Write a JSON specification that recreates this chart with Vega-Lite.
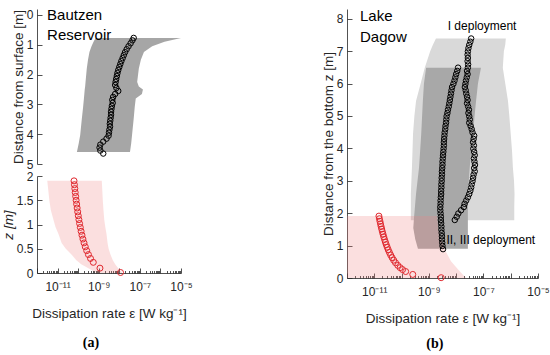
{
  "$schema": "https://vega.github.io/schema/vega-lite/v6.json",
  "padding": {"left": 1, "top": 7, "right": 3, "bottom": 5},
  "bounds": "flush",
  "spacing": 310,
  "config": {
    "view": {"stroke": null},
    "font": "Liberation Sans",
    "axis": {"grid": false, "domainColor": "#262626", "tickColor": "#262626", "labelColor": "#262626", "titleColor": "#262626", "labelFont": "Liberation Sans", "titleFont": "Liberation Sans", "labelFontSize": 12, "titleFontSize": 13.5, "titleFontWeight": "normal", "domainWidth": 0.8, "tickWidth": 0.8},
    "axisY": {"tickSize": -5, "labelPadding": 9, "titlePadding": 1, "labelOverlap": false, "labelBound": false}
  },
  "datasets": {
    "bautzenBand": [
      {"depth": 0.77, "lo": 7.08e-10, "hi": 1e-5},
      {"depth": 0.9, "lo": 5.62e-10, "hi": 1.58e-6},
      {"depth": 1.05, "lo": 4.47e-10, "hi": 3.98e-7},
      {"depth": 1.24, "lo": 3.55e-10, "hi": 1.58e-7},
      {"depth": 1.5, "lo": 3.02e-10, "hi": 1.12e-7},
      {"depth": 1.8, "lo": 2.63e-10, "hi": 8.91e-8},
      {"depth": 2.25, "lo": 2.29e-10, "hi": 7.41e-8},
      {"depth": 2.4, "lo": 2.19e-10, "hi": 8.91e-8},
      {"depth": 2.5, "lo": 2.09e-10, "hi": 1.41e-7},
      {"depth": 2.65, "lo": 2.0e-10, "hi": 1.26e-7},
      {"depth": 2.8, "lo": 1.91e-10, "hi": 6.31e-8},
      {"depth": 3.1, "lo": 1.74e-10, "hi": 5.62e-8},
      {"depth": 3.48, "lo": 1.51e-10, "hi": 5.01e-8},
      {"depth": 4.03, "lo": 1.26e-10, "hi": 4.17e-8},
      {"depth": 4.3, "lo": 1.07e-10, "hi": 3.8e-8},
      {"depth": 4.6, "lo": 8.71e-11, "hi": 3.31e-8}
    ],
    "bautzenEps": [
      {"depth": 0.77, "eps": 5.01e-8}, {"depth": 0.85, "eps": 4.37e-8}, {"depth": 0.95, "eps": 3.55e-8}, {"depth": 1.05, "eps": 2.82e-8},
      {"depth": 1.15, "eps": 2.29e-8}, {"depth": 1.25, "eps": 1.91e-8}, {"depth": 1.35, "eps": 1.66e-8}, {"depth": 1.45, "eps": 1.45e-8},
      {"depth": 1.55, "eps": 1.26e-8}, {"depth": 1.65, "eps": 1.12e-8}, {"depth": 1.75, "eps": 1.0e-8}, {"depth": 1.85, "eps": 8.91e-9},
      {"depth": 1.95, "eps": 8.13e-9}, {"depth": 2.05, "eps": 7.59e-9}, {"depth": 2.15, "eps": 7.08e-9}, {"depth": 2.25, "eps": 6.61e-9},
      {"depth": 2.35, "eps": 6.31e-9}, {"depth": 2.45, "eps": 7.24e-9}, {"depth": 2.55, "eps": 8.91e-9}, {"depth": 2.65, "eps": 6.31e-9},
      {"depth": 2.75, "eps": 5.01e-9}, {"depth": 2.85, "eps": 4.57e-9}, {"depth": 2.95, "eps": 4.79e-9}, {"depth": 3.05, "eps": 4.37e-9},
      {"depth": 3.15, "eps": 4.17e-9}, {"depth": 3.25, "eps": 3.98e-9}, {"depth": 3.35, "eps": 3.98e-9}, {"depth": 3.45, "eps": 3.8e-9},
      {"depth": 3.55, "eps": 3.63e-9}, {"depth": 3.65, "eps": 3.47e-9}, {"depth": 3.75, "eps": 3.55e-9}, {"depth": 3.85, "eps": 3.31e-9},
      {"depth": 3.95, "eps": 3.16e-9}, {"depth": 4.05, "eps": 3.02e-9}, {"depth": 4.15, "eps": 2.4e-9}, {"depth": 4.25, "eps": 1.66e-9},
      {"depth": 4.35, "eps": 1.2e-9}, {"depth": 4.45, "eps": 1.1e-9}, {"depth": 4.55, "eps": 1.2e-9}, {"depth": 4.65, "eps": 1.66e-9}
    ],
    "textA": [
      {"label": "Bautzen", "depth": 0, "eps": 3.1e-12},
      {"label": "Reservoir", "depth": 0.67, "eps": 3.1e-12}
    ],
    "bottomBand": [
      {"z": 1.9, "lo": 3.16e-12, "hi": 1.41e-9},
      {"z": 1.5, "lo": 3.98e-12, "hi": 1.58e-9},
      {"z": 1.3, "lo": 4.68e-12, "hi": 1.7e-9},
      {"z": 1.1, "lo": 6.31e-12, "hi": 1.86e-9},
      {"z": 0.95, "lo": 7.94e-12, "hi": 2.09e-9},
      {"z": 0.8, "lo": 1.12e-11, "hi": 2.4e-9},
      {"z": 0.62, "lo": 1.58e-11, "hi": 2.69e-9},
      {"z": 0.5, "lo": 2.51e-11, "hi": 3.02e-9},
      {"z": 0.37, "lo": 5.01e-11, "hi": 3.8e-9},
      {"z": 0.27, "lo": 7.94e-11, "hi": 4.79e-9},
      {"z": 0.18, "lo": 1.41e-10, "hi": 6.31e-9},
      {"z": 0.1, "lo": 3.16e-10, "hi": 8.91e-9},
      {"z": 0.05, "lo": 5.01e-10, "hi": 1.12e-8},
      {"z": 0, "lo": 7.94e-10, "hi": 1.41e-8}
    ],
    "bottomEps": [
      {"z": 1.9, "eps": 6.31e-11}, {"z": 1.82, "eps": 6.59e-11}, {"z": 1.74, "eps": 6.89e-11}, {"z": 1.66, "eps": 7.22e-11},
      {"z": 1.58, "eps": 7.59e-11}, {"z": 1.5, "eps": 7.99e-11}, {"z": 1.42, "eps": 8.44e-11}, {"z": 1.34, "eps": 8.95e-11},
      {"z": 1.26, "eps": 9.52e-11}, {"z": 1.18, "eps": 1.016e-10}, {"z": 1.1, "eps": 1.09e-10}, {"z": 1.02, "eps": 1.175e-10},
      {"z": 0.94, "eps": 1.276e-10}, {"z": 0.86, "eps": 1.394e-10}, {"z": 0.78, "eps": 1.537e-10}, {"z": 0.7, "eps": 1.713e-10},
      {"z": 0.62, "eps": 1.934e-10}, {"z": 0.54, "eps": 2.22e-10}, {"z": 0.46, "eps": 2.61e-10}, {"z": 0.38, "eps": 3.16e-10},
      {"z": 0.3, "eps": 4.0e-10}, {"z": 0.22, "eps": 5.45e-10}, {"z": 0.1, "eps": 1.15e-9}, {"z": 0.01, "eps": 1.15e-8}
    ],
    "captionA": [{"label": "(a)", "z": -1.44, "eps": 4.2e-10}],
    "dagowLight": [
      {"z": 7.39, "lo": 1.82e-9, "hi": 6.61e-7},
      {"z": 7.2, "lo": 1.41e-9, "hi": 6.31e-7},
      {"z": 7.0, "lo": 1.12e-9, "hi": 5.62e-7},
      {"z": 6.49, "lo": 7.08e-10, "hi": 5.13e-7},
      {"z": 6.0, "lo": 5.01e-10, "hi": 6.31e-7},
      {"z": 5.46, "lo": 3.39e-10, "hi": 7.94e-7},
      {"z": 5.0, "lo": 2.95e-10, "hi": 8.91e-7},
      {"z": 4.44, "lo": 2.63e-10, "hi": 1.0e-6},
      {"z": 3.9, "lo": 2.51e-10, "hi": 1.12e-6},
      {"z": 3.41, "lo": 2.4e-10, "hi": 1.2e-6},
      {"z": 3.0, "lo": 2.29e-10, "hi": 1.32e-6},
      {"z": 2.6, "lo": 2.19e-10, "hi": 1.38e-6},
      {"z": 2.2, "lo": 2.19e-10, "hi": 1.35e-6},
      {"z": 1.78, "lo": 2.19e-10, "hi": 1.35e-6}
    ],
    "dagowDark": [
      {"z": 6.49, "lo": 7.94e-10, "hi": 8.13e-8},
      {"z": 6.0, "lo": 6.61e-10, "hi": 6.31e-8},
      {"z": 5.46, "lo": 6.03e-10, "hi": 5.37e-8},
      {"z": 4.95, "lo": 5.62e-10, "hi": 4.68e-8},
      {"z": 4.44, "lo": 5.25e-10, "hi": 4.17e-8},
      {"z": 3.92, "lo": 4.79e-10, "hi": 3.55e-8},
      {"z": 3.41, "lo": 4.37e-10, "hi": 3.16e-8},
      {"z": 2.6, "lo": 3.39e-10, "hi": 2.69e-8},
      {"z": 1.8, "lo": 2.82e-10, "hi": 2.69e-8},
      {"z": 1.54, "lo": 2.69e-10, "hi": 2.69e-8},
      {"z": 1.2, "lo": 3.16e-10, "hi": 2.69e-8},
      {"z": 0.9, "lo": 3.98e-10, "hi": 2.69e-8}
    ],
    "dagowPink": [
      {"z": 1.91, "lo": 1e-12, "hi": 2.0e-9},
      {"z": 1.5, "lo": 1e-12, "hi": 2.24e-9},
      {"z": 1.2, "lo": 1e-12, "hi": 2.82e-9},
      {"z": 0.85, "lo": 1e-12, "hi": 3.98e-9},
      {"z": 0.52, "lo": 1e-12, "hi": 6.46e-9},
      {"z": 0.21, "lo": 1e-12, "hi": 1.35e-8},
      {"z": 0, "lo": 1e-12, "hi": 2.29e-8}
    ],
    "dagowI": [
      {"z": 7.39, "eps": 3.55e-8}, {"z": 7.29, "eps": 3.31e-8}, {"z": 7.19, "eps": 3.02e-8}, {"z": 7.09, "eps": 2.82e-8},
      {"z": 6.99, "eps": 2.69e-8}, {"z": 6.89, "eps": 2.63e-8}, {"z": 6.79, "eps": 2.69e-8}, {"z": 6.69, "eps": 2.63e-8},
      {"z": 6.59, "eps": 2.75e-8}, {"z": 6.49, "eps": 2.69e-8}, {"z": 6.39, "eps": 2.51e-8}, {"z": 6.29, "eps": 2.63e-8},
      {"z": 6.19, "eps": 2.45e-8}, {"z": 6.09, "eps": 2.29e-8}, {"z": 5.99, "eps": 2.19e-8}, {"z": 5.89, "eps": 2.09e-8},
      {"z": 5.79, "eps": 2.24e-8}, {"z": 5.69, "eps": 2.34e-8}, {"z": 5.59, "eps": 2.51e-8}, {"z": 5.49, "eps": 2.63e-8},
      {"z": 5.39, "eps": 2.51e-8}, {"z": 5.29, "eps": 2.75e-8}, {"z": 5.19, "eps": 2.95e-8}, {"z": 5.09, "eps": 2.82e-8},
      {"z": 4.99, "eps": 3.02e-8}, {"z": 4.89, "eps": 3.16e-8}, {"z": 4.79, "eps": 3.02e-8}, {"z": 4.69, "eps": 3.39e-8},
      {"z": 4.59, "eps": 3.72e-8}, {"z": 4.49, "eps": 3.98e-8}, {"z": 4.39, "eps": 4.57e-8}, {"z": 4.29, "eps": 4.37e-8},
      {"z": 4.19, "eps": 4.17e-8}, {"z": 4.09, "eps": 4.47e-8}, {"z": 3.99, "eps": 4.27e-8}, {"z": 3.89, "eps": 4.57e-8},
      {"z": 3.79, "eps": 4.79e-8}, {"z": 3.69, "eps": 4.47e-8}, {"z": 3.59, "eps": 4.68e-8}, {"z": 3.49, "eps": 4.9e-8},
      {"z": 3.39, "eps": 4.57e-8}, {"z": 3.29, "eps": 4.79e-8}, {"z": 3.19, "eps": 4.37e-8}, {"z": 3.09, "eps": 4.17e-8},
      {"z": 2.99, "eps": 3.98e-8}, {"z": 2.89, "eps": 3.72e-8}, {"z": 2.79, "eps": 3.55e-8}, {"z": 2.69, "eps": 3.31e-8},
      {"z": 2.59, "eps": 3.02e-8}, {"z": 2.49, "eps": 2.69e-8}, {"z": 2.39, "eps": 2.34e-8}, {"z": 2.29, "eps": 2.04e-8},
      {"z": 2.19, "eps": 1.91e-8}, {"z": 2.09, "eps": 1.51e-8}, {"z": 1.99, "eps": 1.2e-8}, {"z": 1.89, "eps": 1.05e-8},
      {"z": 1.79, "eps": 8.91e-9}
    ],
    "dagowII": [
      {"z": 6.49, "eps": 1.175e-8}, {"z": 6.39, "eps": 1.096e-8}, {"z": 6.29, "eps": 1.0e-8}, {"z": 6.19, "eps": 9.33e-9},
      {"z": 6.09, "eps": 8.71e-9}, {"z": 5.99, "eps": 7.94e-9}, {"z": 5.89, "eps": 7.08e-9}, {"z": 5.79, "eps": 6.76e-9},
      {"z": 5.69, "eps": 6.46e-9}, {"z": 5.59, "eps": 6.17e-9}, {"z": 5.49, "eps": 5.89e-9}, {"z": 5.39, "eps": 5.62e-9},
      {"z": 5.29, "eps": 5.37e-9}, {"z": 5.19, "eps": 5.01e-9}, {"z": 5.09, "eps": 4.79e-9}, {"z": 4.99, "eps": 4.47e-9},
      {"z": 4.89, "eps": 4.37e-9}, {"z": 4.79, "eps": 4.27e-9}, {"z": 4.69, "eps": 4.07e-9}, {"z": 4.59, "eps": 3.98e-9},
      {"z": 4.49, "eps": 3.8e-9}, {"z": 4.39, "eps": 3.72e-9}, {"z": 4.29, "eps": 3.63e-9}, {"z": 4.19, "eps": 3.55e-9},
      {"z": 4.09, "eps": 3.55e-9}, {"z": 3.99, "eps": 3.47e-9}, {"z": 3.89, "eps": 3.39e-9}, {"z": 3.79, "eps": 3.31e-9},
      {"z": 3.69, "eps": 3.24e-9}, {"z": 3.59, "eps": 3.16e-9}, {"z": 3.49, "eps": 3.16e-9}, {"z": 3.39, "eps": 3.09e-9},
      {"z": 3.29, "eps": 3.02e-9}, {"z": 3.19, "eps": 3.02e-9}, {"z": 3.09, "eps": 2.95e-9}, {"z": 2.99, "eps": 2.95e-9},
      {"z": 2.89, "eps": 2.88e-9}, {"z": 2.79, "eps": 2.88e-9}, {"z": 2.69, "eps": 2.82e-9}, {"z": 2.59, "eps": 2.82e-9},
      {"z": 2.49, "eps": 2.75e-9}, {"z": 2.39, "eps": 2.69e-9}, {"z": 2.29, "eps": 2.69e-9}, {"z": 2.19, "eps": 2.63e-9},
      {"z": 2.09, "eps": 2.63e-9}, {"z": 1.99, "eps": 2.69e-9}, {"z": 1.89, "eps": 2.75e-9}, {"z": 1.79, "eps": 2.75e-9},
      {"z": 1.69, "eps": 2.82e-9}, {"z": 1.59, "eps": 2.88e-9}, {"z": 1.49, "eps": 2.88e-9}, {"z": 1.39, "eps": 2.95e-9},
      {"z": 1.29, "eps": 3.02e-9}, {"z": 1.19, "eps": 3.02e-9}, {"z": 1.09, "eps": 3.09e-9}, {"z": 0.99, "eps": 3.16e-9},
      {"z": 0.89, "eps": 3.31e-9}
    ],
    "dagowRed": [
      {"z": 1.91, "eps": 1.48e-11}, {"z": 1.83, "eps": 1.544e-11}, {"z": 1.75, "eps": 1.615e-11}, {"z": 1.67, "eps": 1.692e-11},
      {"z": 1.59, "eps": 1.777e-11}, {"z": 1.51, "eps": 1.872e-11}, {"z": 1.43, "eps": 1.976e-11}, {"z": 1.35, "eps": 2.093e-11},
      {"z": 1.27, "eps": 2.225e-11}, {"z": 1.19, "eps": 2.375e-11}, {"z": 1.11, "eps": 2.546e-11}, {"z": 1.03, "eps": 2.744e-11},
      {"z": 0.95, "eps": 2.975e-11}, {"z": 0.87, "eps": 3.248e-11}, {"z": 0.79, "eps": 3.577e-11}, {"z": 0.71, "eps": 3.98e-11},
      {"z": 0.63, "eps": 4.486e-11}, {"z": 0.55, "eps": 5.138e-11}, {"z": 0.47, "eps": 6.013e-11}, {"z": 0.39, "eps": 7.246e-11},
      {"z": 0.32, "eps": 8.831e-11}, {"z": 0.26, "eps": 1.087e-10}, {"z": 0.2, "eps": 1.413e-10}, {"z": 0.11, "eps": 2.569e-10},
      {"z": 0.01, "eps": 2.82e-9}
    ],
    "textB": [
      {"label": "Lake", "z": 8.09, "eps": 3.0e-12},
      {"label": "Dagow", "z": 7.44, "eps": 3.0e-12}
    ],
    "textB2": [
      {"label": "I deployment", "z": 7.78, "eps": 8.9e-8},
      {"label": "II, III deployment", "z": 1.17, "eps": 1.86e-7}
    ],
    "captionB": [{"label": "(b)", "z": -2.04, "eps": 1.66e-9}]
  },
  "hconcat": [
    {
      "bounds": "flush",
      "spacing": 12,
      "vconcat": [
        {
          "width": 144,
          "height": 155,
          "layer": [
            {
              "data": {"name": "bautzenBand"},
              "mark": {"type": "area", "orient": "horizontal", "color": "#a6a6a6"},
              "encoding": {
                "y": {"field": "depth", "type": "quantitative", "scale": {"domain": [-0.2, 5], "reverse": true, "nice": false, "zero": false}, "axis": {"values": [0, 1, 2, 3, 4, 5], "tickCount": 6, "labelOverlap": false, "title": "Distance from surface [m]"}},
                "x": {"field": "lo", "type": "quantitative", "scale": {"type": "log", "domain": [1e-12, 1e-5], "nice": false}, "axis": null},
                "x2": {"field": "hi"}
              }
            },
            {
              "data": {"name": "bautzenEps"},
              "mark": {"type": "point", "shape": "circle", "filled": false, "color": "#000000", "size": 30, "strokeWidth": 1, "opacity": 1},
              "encoding": {
                "y": {"field": "depth", "type": "quantitative"},
                "x": {"field": "eps", "type": "quantitative"}
              }
            },
            {
              "data": {"name": "textA"},
              "mark": {"type": "text", "align": "left", "baseline": "middle", "fontSize": 15, "color": "#000000"},
              "encoding": {
                "y": {"field": "depth", "type": "quantitative"},
                "x": {"field": "eps", "type": "quantitative"},
                "text": {"field": "label"}
              }
            }
          ]
        },
        {
          "width": 144,
          "height": 97,
          "layer": [
            {
              "data": {"name": "bottomBand"},
              "mark": {"type": "area", "orient": "horizontal", "color": "#f08080", "opacity": 0.25},
              "encoding": {
                "y": {"field": "z", "type": "quantitative", "scale": {"domain": [0, 2], "nice": false}, "axis": {"values": [0, 0.5, 1, 1.5, 2], "tickCount": 5, "labelOverlap": false, "format": "~g", "title": "z [m]", "titleFontStyle": "italic"}},
                "x": {"field": "lo", "type": "quantitative", "scale": {"type": "log", "domain": [1e-12, 1e-5], "nice": false},
                  "axis": {
                    "values": [1e-12,2e-12,3e-12,4e-12,5e-12,6e-12,7e-12,8e-12,9e-12,1e-11,2e-11,3e-11,4e-11,5e-11,6e-11,7e-11,8e-11,9e-11,1e-10,2e-10,3e-10,4e-10,5e-10,6e-10,7e-10,8e-10,9e-10,1e-9,2e-9,3e-9,4e-9,5e-9,6e-9,7e-9,8e-9,9e-9,1e-8,2e-8,3e-8,4e-8,5e-8,6e-8,7e-8,8e-8,9e-8,1e-7,2e-7,3e-7,4e-7,5e-7,6e-7,7e-7,8e-7,9e-7,1e-6,2e-6,3e-6,4e-6,5e-6,6e-6,7e-6,8e-6,9e-6,1e-5],
                    "labelExpr": "abs(log(datum.value)/LN10 + 11) < 0.001 ? '10⁻¹¹' : abs(log(datum.value)/LN10 + 9) < 0.001 ? '10⁻⁹' : abs(log(datum.value)/LN10 + 7) < 0.001 ? '10⁻⁷' : abs(log(datum.value)/LN10 + 5) < 0.001 ? '10⁻⁵' : ''",
                    "tickSize": {"condition": {"test": "abs(log(datum.value)/LN10 - round(log(datum.value)/LN10)) < 0.001", "value": -5}, "value": -2.5},
                    "labelPadding": 13,
                    "labelFlush": false,
                    "labelOverlap": false,
                    "title": "Dissipation rate ε [W kg⁻¹]",
                    "titlePadding": 12
                  }
                },
                "x2": {"field": "hi"}
              }
            },
            {
              "data": {"name": "bottomEps"},
              "mark": {"type": "point", "shape": "circle", "filled": false, "color": "#e0282e", "size": 36, "strokeWidth": 1, "opacity": 1},
              "encoding": {
                "y": {"field": "z", "type": "quantitative"},
                "x": {"field": "eps", "type": "quantitative"}
              }
            },
            {
              "data": {"name": "captionA"},
              "mark": {"type": "text", "align": "center", "baseline": "middle", "fontSize": 14, "font": "Liberation Serif", "fontWeight": "bold", "color": "#000000"},
              "encoding": {
                "y": {"field": "z", "type": "quantitative"},
                "x": {"field": "eps", "type": "quantitative"},
                "text": {"field": "label"}
              }
            }
          ]
        }
      ]
    },
    {
      "width": 191,
      "height": 269,
      "layer": [
        {
          "data": {"name": "dagowLight"},
          "mark": {"type": "area", "orient": "horizontal", "color": "#d9d9d9"},
          "encoding": {
            "y": {"field": "z", "type": "quantitative", "scale": {"domain": [0, 8.3], "nice": false}, "axis": {"values": [0, 1, 2, 3, 4, 5, 6, 7, 8], "tickCount": 9, "labelOverlap": false, "title": "Distance from the bottom  z [m]"}},
            "x": {"field": "lo", "type": "quantitative", "scale": {"type": "log", "domain": [1e-12, 1e-5], "nice": false},
              "axis": {
                "values": [1e-12,2e-12,3e-12,4e-12,5e-12,6e-12,7e-12,8e-12,9e-12,1e-11,2e-11,3e-11,4e-11,5e-11,6e-11,7e-11,8e-11,9e-11,1e-10,2e-10,3e-10,4e-10,5e-10,6e-10,7e-10,8e-10,9e-10,1e-9,2e-9,3e-9,4e-9,5e-9,6e-9,7e-9,8e-9,9e-9,1e-8,2e-8,3e-8,4e-8,5e-8,6e-8,7e-8,8e-8,9e-8,1e-7,2e-7,3e-7,4e-7,5e-7,6e-7,7e-7,8e-7,9e-7,1e-6,2e-6,3e-6,4e-6,5e-6,6e-6,7e-6,8e-6,9e-6,1e-5],
                "labelExpr": "abs(log(datum.value)/LN10 + 11) < 0.001 ? '10⁻¹¹' : abs(log(datum.value)/LN10 + 9) < 0.001 ? '10⁻⁹' : abs(log(datum.value)/LN10 + 7) < 0.001 ? '10⁻⁷' : abs(log(datum.value)/LN10 + 5) < 0.001 ? '10⁻⁵' : ''",
                "tickSize": {"condition": {"test": "abs(log(datum.value)/LN10 - round(log(datum.value)/LN10)) < 0.001", "value": -5}, "value": -2.5},
                "labelPadding": 13,
                "labelFlush": false,
                "labelOverlap": false,
                "title": "Dissipation rate ε [W kg⁻¹]",
                "titlePadding": 12
              }
            },
            "x2": {"field": "hi"}
          }
        },
        {
          "data": {"name": "dagowDark"},
          "mark": {"type": "area", "orient": "horizontal", "color": "#a8a8a8"},
          "encoding": {
            "y": {"field": "z", "type": "quantitative"},
            "x": {"field": "lo", "type": "quantitative"},
            "x2": {"field": "hi"}
          }
        },
        {
          "data": {"name": "dagowPink"},
          "mark": {"type": "area", "orient": "horizontal", "color": "#f08080", "opacity": 0.25},
          "encoding": {
            "y": {"field": "z", "type": "quantitative"},
            "x": {"field": "lo", "type": "quantitative"},
            "x2": {"field": "hi"}
          }
        },
        {
          "data": {"name": "dagowI"},
          "mark": {"type": "point", "shape": "circle", "filled": false, "color": "#000000", "size": 30, "strokeWidth": 1, "opacity": 1},
          "encoding": {
            "y": {"field": "z", "type": "quantitative"},
            "x": {"field": "eps", "type": "quantitative"}
          }
        },
        {
          "data": {"name": "dagowII"},
          "mark": {"type": "point", "shape": "circle", "filled": false, "color": "#000000", "size": 30, "strokeWidth": 1, "opacity": 1},
          "encoding": {
            "y": {"field": "z", "type": "quantitative"},
            "x": {"field": "eps", "type": "quantitative"}
          }
        },
        {
          "data": {"name": "dagowRed"},
          "mark": {"type": "point", "shape": "circle", "filled": false, "color": "#e0282e", "size": 36, "strokeWidth": 1, "opacity": 1},
          "encoding": {
            "y": {"field": "z", "type": "quantitative"},
            "x": {"field": "eps", "type": "quantitative"}
          }
        },
        {
          "data": {"name": "textB"},
          "mark": {"type": "text", "align": "left", "baseline": "middle", "fontSize": 15, "color": "#000000"},
          "encoding": {
            "y": {"field": "z", "type": "quantitative"},
            "x": {"field": "eps", "type": "quantitative"},
            "text": {"field": "label"}
          }
        },
        {
          "data": {"name": "textB2"},
          "mark": {"type": "text", "align": "center", "baseline": "middle", "fontSize": 12, "color": "#000000"},
          "encoding": {
            "y": {"field": "z", "type": "quantitative"},
            "x": {"field": "eps", "type": "quantitative"},
            "text": {"field": "label"}
          }
        },
        {
          "data": {"name": "captionB"},
          "mark": {"type": "text", "align": "center", "baseline": "middle", "fontSize": 14, "font": "Liberation Serif", "fontWeight": "bold", "color": "#000000"},
          "encoding": {
            "y": {"field": "z", "type": "quantitative"},
            "x": {"field": "eps", "type": "quantitative"},
            "text": {"field": "label"}
          }
        }
      ]
    }
  ]
}
